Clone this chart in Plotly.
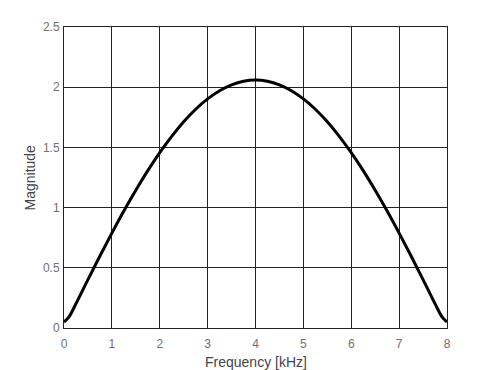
import plotly.graph_objects as go

freq_khz = [0, 0.1, 0.25, 0.5, 0.75, 1, 1.25, 1.5, 1.75, 2, 2.25, 2.5, 2.75, 3, 3.25, 3.5, 3.75, 4,
            4.25, 4.5, 4.75, 5, 5.25, 5.5, 5.75, 6, 6.25, 6.5, 6.75, 7, 7.25, 7.5, 7.75, 7.9, 8]
magnitude = [0.050, 0.090, 0.202, 0.402, 0.598, 0.788, 0.971, 1.144, 1.307, 1.457, 1.592, 1.713, 1.817,
             1.903, 1.971, 2.020, 2.050, 2.060,
             2.050, 2.020, 1.971, 1.903, 1.817, 1.713, 1.592, 1.457, 1.307, 1.144, 0.971, 0.788,
             0.598, 0.402, 0.202, 0.090, 0.050]

x_ticks = [0, 1, 2, 3, 4, 5, 6, 7, 8]
y_ticks = [0, 0.5, 1, 1.5, 2, 2.5]
y_tick_labels = ["0", "0.5", "1", "1.5", "2", "2.5"]

FONT = "Liberation Sans, Arial"

fig = go.Figure(go.Scatter(x=freq_khz, y=magnitude, mode="lines",
                           line=dict(color="black", width=3, shape="spline", smoothing=1.0)))

axis_common = dict(showgrid=True, gridcolor="#222", gridwidth=1, showline=True, linecolor="#222",
                   linewidth=1, mirror=True, zeroline=False, automargin=False,
                   tickfont=dict(family=FONT, size=12, color="#707070"))

fig.update_layout(
    width=485, height=362,
    margin=dict(l=56, r=46, t=19, b=42),
    plot_bgcolor="white", paper_bgcolor="white",
    showlegend=False,
    xaxis=dict(range=[0, 8], tickvals=x_ticks, ticktext=[str(v) for v in x_ticks],
               ticks="outside", ticklen=5, tickcolor="rgba(0,0,0,0)", **axis_common),
    yaxis=dict(range=[0, 2.5], tickvals=y_ticks, ticktext=y_tick_labels,
               ticks="outside", ticklen=1, tickcolor="rgba(0,0,0,0)", **axis_common),
    annotations=[
        dict(text="Frequency [kHz]", xref="paper", yref="paper", x=0.5, y=0,
             xanchor="center", yanchor="middle", yshift=-34, showarrow=False,
             font=dict(family=FONT, size=14, color="#444")),
        dict(text="Magnitude", xref="paper", yref="paper", x=0, y=0.5, textangle=-90,
             xanchor="center", yanchor="middle", xshift=-35, showarrow=False,
             font=dict(family=FONT, size=14, color="#444")),
    ],
)

fig.write_html("out.html")
